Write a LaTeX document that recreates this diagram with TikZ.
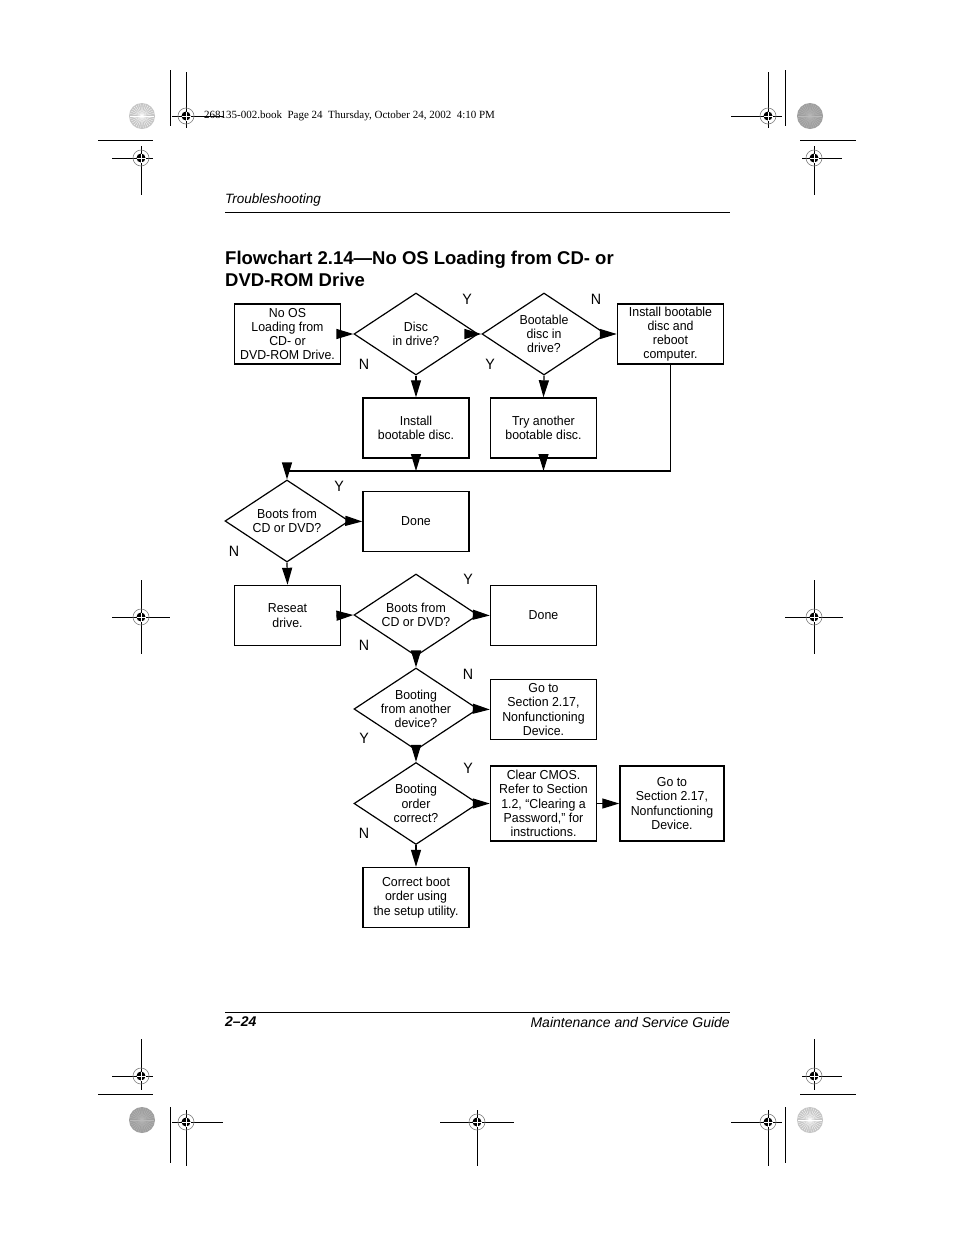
\documentclass[tikz,border=0pt]{standalone}
\usepackage{fontspec}
\setmainfont{Liberation Sans}
\newfontfamily\narrowfont{Liberation Sans}[FakeStretch=0.95]
\newfontfamily\stampfont{Liberation Serif}
\usetikzlibrary{shapes.geometric,arrows.meta}

% crop mark helper: x, y, left, right, up, down
\newcommand{\regmark}[6]{%
  \draw[line width=1pt] (#1-#3,#2) -- (#1+#4,#2) (#1,#2-#5) -- (#1,#2+#6);
  \draw[gray,line width=0.6pt] (#1,#2) circle (8pt);
  \fill (#1,#2) circle (4.5pt);
  \draw[white,line width=0.5pt] (#1-4.5,#2) -- (#1+4.5,#2) (#1,#2-4.5) -- (#1,#2+4.5);
}
% colour target: centre, fill, rays
\newcommand{\starburst}[3]{%
  \fill[#2] (#1) circle (13pt);
  \foreach \a in {0,12,...,348} \draw[#3,line width=0.3pt] (#1) -- ++(\a:12pt);
}

\tikzset{
  box/.style={draw,line width=1.4pt,minimum width=106pt,minimum height=60pt,inner sep=1pt,
    align=center,font=\narrowfont\fontsize{13}{14.2}\selectfont},
  query/.style={diamond,draw,line width=1.2pt,minimum width=124pt,minimum height=82pt,
    aspect=1.5,inner xsep=0pt,inner ysep=-6pt,align=center,font=\narrowfont\fontsize{13}{14.2}\selectfont},
  flow/.style={line width=1.2pt,-{Triangle[length=17pt,width=10pt]}},
  yn/.style={font=\narrowfont\fontsize{15}{15}\selectfont},
}

\begin{document}
\begin{tikzpicture}[x=1pt,y=-1pt]

\useasboundingbox[fill=white] (0,0) rectangle (954,1235);

% page marks
\starburst{142,116}{gray!45}{white}
\starburst{810,116}{gray!75}{gray!55}
\starburst{142,1120}{gray!75}{gray!55}
\starburst{810,1120}{gray!45}{white}
\draw[line width=1pt] (170,70) -- (170,126) (785,70) -- (785,126);
\draw[line width=1pt] (170,1107) -- (170,1163) (785,1107) -- (785,1163);
\draw[line width=1pt] (98,140) -- (153,140) (800,140) -- (856,140);
\draw[line width=1pt] (98,1094) -- (153,1094) (800,1094) -- (856,1094);
\regmark{186}{116}{14}{37}{44}{12}
\regmark{768}{116}{37}{14}{44}{12}
\regmark{141}{158}{29}{12}{12}{37}
\regmark{814}{158}{12}{28}{12}{37}
\regmark{141}{617}{29}{29}{37}{37}
\regmark{814}{617}{29}{29}{37}{37}
\regmark{141}{1076}{29}{12}{37}{14}
\regmark{814}{1076}{12}{28}{37}{14}
\regmark{186}{1122}{14}{37}{12}{44}
\regmark{477}{1122}{37}{37}{12}{44}
\regmark{768}{1122}{37}{14}{12}{44}

\node[anchor=west,inner sep=0,font=\stampfont\fontsize{11}{12}\selectfont] (stamp) at (204,116)
  {268135-002.book\ \ Page 24\ \ Thursday, October 24, 2002\ \ 4:10 PM};

% header and footer
\node[anchor=west,inner sep=0,font=\itshape\fontsize{13.5}{13.5}\selectfont] (head) at (225,200) {Troubleshooting};
\draw[line width=0.8pt] (225,212) -- (730,212);
\node[anchor=west,inner sep=0,align=left,font=\bfseries\fontsize{18.5}{22}\selectfont] (title) at (225,269)
  {Flowchart 2.14—No OS Loading from CD- or\\DVD-ROM Drive};
\draw[line width=0.8pt] (225,1012) -- (730,1012);
\node[anchor=west,inner sep=0,font=\bfseries\itshape\fontsize{14}{14}\selectfont] (page) at (225,1022) {2–24};
\node[anchor=east,inner sep=0,font=\itshape\fontsize{14}{14}\selectfont] (guide) at (730,1022) {Maintenance and Service Guide};

% flowchart
\node[box] (start) at (287.5,334) {No OS\\Loading from\\CD- or\\DVD-ROM Drive.};
\node[query] (disc) at (416,334) {Disc\\in drive?};
\node[query] (boot) at (544,334) {Bootable\\disc in\\drive?};
\node[box] (reboot) at (670.5,334) {Install bootable\\disc and\\reboot\\computer.};
\node[box] (install) at (416,428) {Install\\bootable disc.};
\node[box] (another) at (543.5,428) {Try another\\bootable disc.};
\node[query] (cd1) at (287,521) {Boots from\\CD or DVD?};
\node[box] (done1) at (416,521.5) {Done};
\node[box] (reseat) at (287.5,615.5) {Reseat\\drive.};
\node[query] (cd2) at (416,615) {Boots from\\CD or DVD?};
\node[box] (done2) at (543.5,615.5) {Done};
\node[query] (other) at (416,709) {Booting\\from another\\device?};
\node[box] (goto1) at (543.5,709.5) {Go to\\Section 2.17,\\Nonfunctioning\\Device.};
\node[query] (order) at (416,803.5) {Booting\\order\\correct?};
\node[box,minimum height=75pt] (cmos) at (543.5,803.5) {Clear CMOS.\\Refer to Section\\1.2, “Clearing a\\Password,” for\\instructions.};
\node[box,minimum height=75pt,minimum width=104pt] (goto2) at (672,803.5) {Go to\\Section 2.17,\\Nonfunctioning\\Device.};
\node[box] (fix) at (416,897.5) {Correct boot\\order using\\the setup utility.};

\coordinate (bus) at (0,471);

\draw[flow] (start.east) -- (disc.west);
\draw[flow] (disc.east) -- (boot.west);
\draw[flow] (boot.east) -- (reboot.west);
\draw[flow] (disc.south) -- (install.north);
\draw[flow] (boot.south) -- (another.north);
\draw[flow] (install.south) -- (install.south |- bus);
\draw[flow] (another.south) -- (another.south |- bus);
\draw[flow] (reboot.south) |- (cd1.north |- bus) -- (cd1.north);
\draw[flow] (cd1.east) -- (done1.west);
\draw[flow] (cd1.south) -- (reseat.north);
\draw[flow] (reseat.east) -- (cd2.west);
\draw[flow] (cd2.east) -- (done2.west);
\draw[flow] (cd2.south) -- (other.north);
\draw[flow] (other.east) -- (goto1.west);
\draw[flow] (other.south) -- (order.north);
\draw[flow] (order.east) -- (cmos.west);
\draw[flow] (cmos.east) -- (goto2.west);
\draw[flow] (order.south) -- (fix.north);

% answers
\node[yn] (y1) at (467,299) {Y};
\node[yn] (n1) at (364,364) {N};
\node[yn] (n2) at (596,299) {N};
\node[yn] (y2) at (490,364) {Y};
\node[yn] (y3) at (339,486) {Y};
\node[yn] (n3) at (234,551) {N};
\node[yn] (y4) at (468,579) {Y};
\node[yn] (n4) at (364,645) {N};
\node[yn] (n5) at (468,674) {N};
\node[yn] (y5) at (364,738) {Y};
\node[yn] (y6) at (468,768) {Y};
\node[yn] (n6) at (364,833) {N};

\end{tikzpicture}
\end{document}
